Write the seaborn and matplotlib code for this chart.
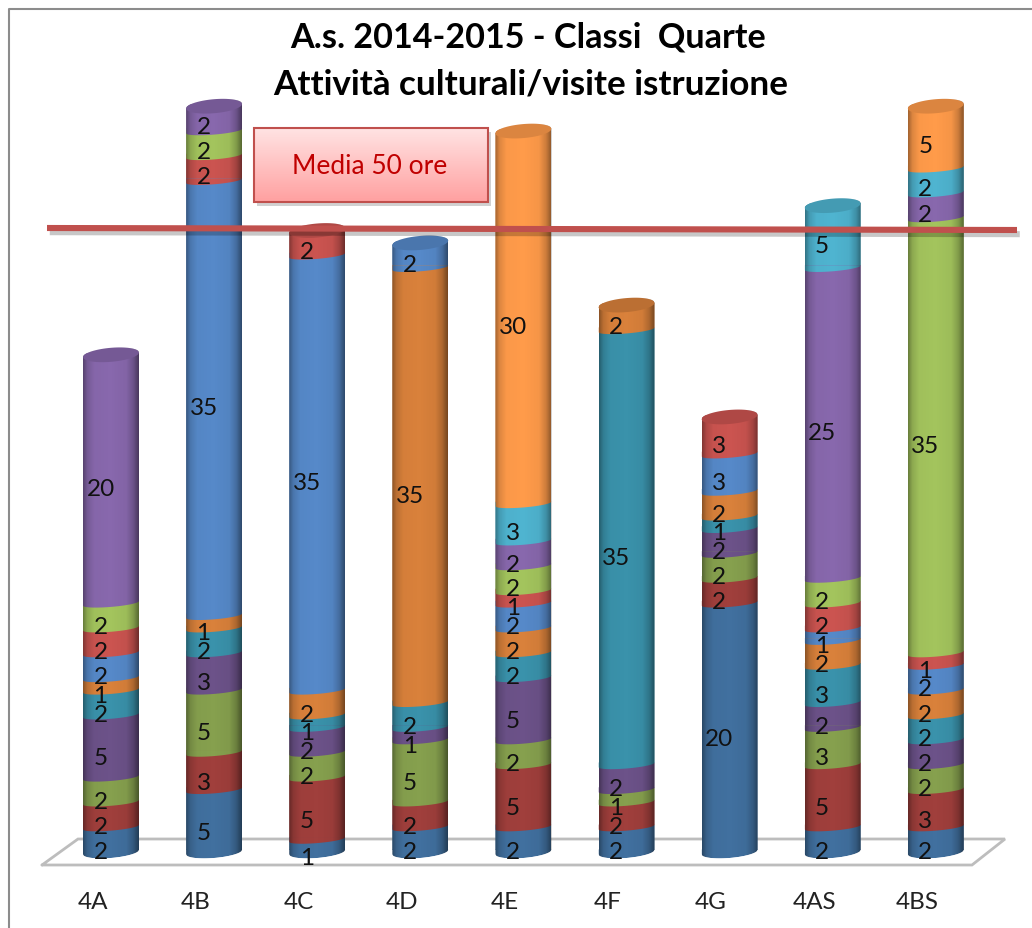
import numpy as np
import pandas as pd
import matplotlib
matplotlib.use("Agg")
import matplotlib.pyplot as plt
import matplotlib.patheffects as pe
from matplotlib.lines import Line2D
from matplotlib.patches import Polygon, Rectangle
import seaborn as sns

classes = ["4A", "4B", "4C", "4D", "4E", "4F", "4G", "4AS", "4BS"]
ore_4A = [2, 2, 2, 5, 2, 1, 2, 2, 2, 20]
ore_4B = [5, 3, 5, 3, 2, 1, 35, 2, 2, 2]
ore_4C = [1, 5, 2, 2, 1, 2, 35, 2]
ore_4D = [2, 2, 5, 1, 2, 35, 2]
ore_4E = [2, 5, 2, 5, 2, 2, 2, 1, 2, 2, 3, 30]
ore_4F = [2, 2, 1, 2, 35, 2]
ore_4G = [20, 2, 2, 2, 1, 2, 3, 3]
ore_4AS = [2, 5, 3, 2, 3, 2, 1, 2, 2, 25, 5]
ore_4BS = [2, 3, 2, 2, 2, 2, 2, 1, 35, 2, 2, 5]
all_ore = [ore_4A, ore_4B, ore_4C, ore_4D, ore_4E, ore_4F, ore_4G, ore_4AS, ore_4BS]
series_colors = ["#41709F", "#A03F3C", "#86A04E", "#6C5289", "#3A92AB", "#D9813B",
                 "#5689C9", "#CB5450", "#A3C45D", "#8868AD", "#4FB4D0", "#FF9B4A"]
media = 50
title_lines = ["A.s. 2014-2015 - Classi  Quarte", "Attività culturali/visite istruzione"]
box_text = "Media 50 ore"

sns.set_theme(style="white")
plt.rcParams["font.family"] = ["Lato", "DejaVu Sans"]

W, H = 1032, 929
fig = plt.figure(figsize=(W / 100, H / 100), dpi=100, facecolor="white")
ax = fig.add_axes([0, 49 / H, 1, 880 / H])

# pixel layout helpers
X0, DX, Y0, DY = 111.0, 103.1, 853.0, 12.43
def px(x): return (np.asarray(x, float) - X0) / DX
def py(y): return (Y0 - np.asarray(y, float)) / DY

HALF = 28 / DX
TILT = 2.3 / DY
SAG = 3.5 / DY
SAG_BOTTOM = 6.0 / DY
SAG_TOP = 7.0 / DY
t = np.linspace(-1, 1, 80)
round_ = np.sqrt(1 - t ** 2)

n_series = 12
tidy = pd.DataFrame({"classe": classes})
for s in range(n_series):
    tidy[f"s{s}"] = [o[s] if s < len(o) else 0 for o in all_ore]
bottoms = np.zeros(len(classes))
totals = np.array([sum(o) for o in all_ore], float)

outlines = []
for i, T in enumerate(totals):
    xs = np.r_[i + HALF * t, i + HALF * t[::-1]]
    ys = np.r_[TILT * t - SAG_BOTTOM * round_, T + TILT * t[::-1] + SAG_TOP * round_[::-1]]
    outlines.append(np.c_[xs, ys])
clip_patches = [Polygon(o, closed=True, transform=ax.transData) for o in outlines]

for s in range(n_series):
    z = 3 + s * 0.01
    col = series_colors[s]
    n_before = len(ax.patches)
    sns.barplot(data=tidy, x="classe", y=f"s{s}", order=classes, color=col, saturation=1,
                width=2 * HALF, bottom=bottoms + TILT, errorbar=None, ax=ax,
                linewidth=0, zorder=z)
    for i, bar in enumerate(ax.patches[n_before:]):
        bar.set_zorder(z)
        bar.set_clip_path(clip_patches[i])
    for i, v in enumerate(tidy[f"s{s}"]):
        if v <= 0:
            continue
        b = bottoms[i]
        sag = SAG_BOTTOM if s == 0 else SAG
        xs = np.r_[i + HALF * t, i + HALF, i - HALF]
        ys = np.r_[b + TILT * t - sag * round_, b + TILT + 0.02, b + TILT + 0.02]
        lens = Polygon(np.c_[xs, ys], closed=True, fc=col, ec="none", zorder=z)
        ax.add_patch(lens)
        lens.set_clip_path(clip_patches[i])
    bottoms = bottoms + tidy[f"s{s}"].to_numpy()

# cylinder shading and top caps
u = np.linspace(-1, 1, 90)
alpha = np.interp(u, [-1, -.85, -.6, 0, .55, .8, 1], [.36, .14, .02, 0, .04, .2, .46])
shade = np.zeros((1, 90, 4))
shade[0, :, 3] = alpha
for i, T in enumerate(totals):
    im = ax.imshow(shade, extent=[i - HALF, i + HALF, -2, T + 2], aspect="auto", zorder=4,
                   interpolation="bilinear")
    im.set_clip_path(clip_patches[i])
    top_col = np.array(matplotlib.colors.to_rgb(series_colors[len(all_ore[i]) - 1])) * 0.86
    cap = np.c_[i + HALF * np.r_[t, t[::-1]],
                np.r_[T + TILT * t + SAG_TOP * round_, T + TILT * t[::-1] - SAG_TOP * round_[::-1]]]
    ax.add_patch(Polygon(cap, closed=True, fc=top_col, ec="none", zorder=4.5))

# floor
fx = [42, 972, 1005, 78, 42]
fy = [866, 866, 840, 840, 866]
ax.plot(px(fx), py(fy), color="#BDBDBD", lw=2.0, zorder=1, solid_joinstyle="miter")

# value labels
for i, vals in enumerate(all_ore):
    b = 0
    for v in vals:
        mid = b + v / 2
        y_px = 865 - 12.5 * mid
        ax.text(i + px(X0 - 10.5), py(y_px), str(v), ha="center", va="center",
                fontsize=17.5, color="#111111", zorder=8)
        b += v

# mean line
mx = [47, 1017]
my = [py(229), py(231)]
line, = ax.plot(px(mx), my, color="#C0504D", lw=4.4, solid_capstyle="butt", zorder=6)
line.set_path_effects([pe.SimpleLineShadow(offset=(2, -3), shadow_color="#000000", alpha=0.22),
                       pe.Normal()])

# text box
bx0, bx1, by0, by1 = px(254), px(488), py(203), py(129)
ax.add_patch(Rectangle((px(257), py(207)), bx1 - bx0, by1 - by0, fc="#000000", alpha=0.18,
                       ec="none", zorder=6))
grad = np.ones((40, 1, 3))
grad[:, 0, 1] = np.linspace(0.89, 0.63, 40)
grad[:, 0, 2] = np.linspace(0.89, 0.63, 40)
ax.imshow(grad, extent=[bx0, bx1, by0, by1], aspect="auto", origin="upper", zorder=6.5)
ax.add_patch(Rectangle((bx0, by0), bx1 - bx0, by1 - by0, fc="none", ec="#C0504D", lw=1.5, zorder=6.6))
ax.text(px(369.5), py(167), box_text, ha="center", va="center", fontsize=19,
        color="#C00000", zorder=7)

# axes
ax.set_xlim(px(0), px(W))
ax.set_ylim(py(880), py(0))
ax.set_xticks(np.arange(len(classes)) - 18.5 / DX, classes)
ax.set_yticks([])
ax.set_xlabel("")
ax.set_ylabel("")
ax.tick_params(axis="x", length=0, pad=9, labelsize=17.5, labelcolor="#222222")
sns.despine(ax=ax, left=True, bottom=True)
ax.patch.set_alpha(0)

# title and frame
fig.text(528 / W, 1 - 48 / H, title_lines[0], ha="center", va="baseline", fontsize=24.6,
         fontweight="bold", color="black")
fig.text(530.5 / W, 1 - 95 / H, title_lines[1], ha="center", va="baseline", fontsize=25.3,
         fontweight="bold", color="black")
fig.add_artist(Line2D([9 / W, 9 / W, 1], [0, 1 - 9.5 / H, 1 - 9.5 / H], color="#8C8C8C", lw=1.5,
                      transform=fig.transFigure))

fig.savefig("out.png", dpi=100, facecolor="white")
